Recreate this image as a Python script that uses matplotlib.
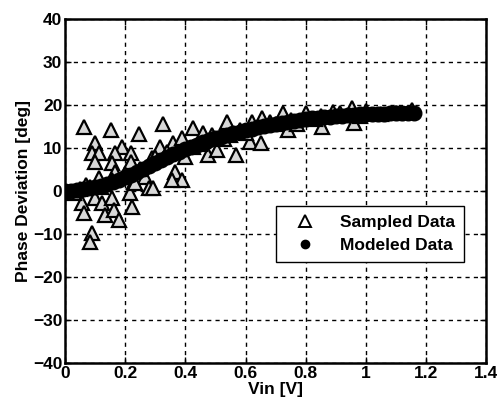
import matplotlib.pyplot as plt
from matplotlib.lines import Line2D

sampled_vin = [
    0.063, 0.153, 0.246, 0.10, 0.19, 0.09, 0.113, 0.166, 0.22, 0.10, 0.156, 0.22,
    0.166, 0.29, 0.113, 0.156, 0.23, 0.266, 0.057, 0.063, 0.10, 0.123, 0.156, 0.133,
    0.163, 0.18, 0.223, 0.09, 0.083, 0.216, 0.28, 0.233, 0.326, 0.426, 0.54, 0.36,
    0.39, 0.316, 0.46, 0.49, 0.57, 0.476, 0.505, 0.366, 0.39, 0.356, 0.293, 0.426,
    0.58, 0.62, 0.655, 0.725, 0.80, 0.855, 0.74, 0.615, 0.65, 0.96, 0.955, 0.89,
    0.915, 0.68, 1.154, 0.03, 0.05, 0.07, 0.12, 0.20, 0.25, 0.30, 0.34, 0.45,
    0.55, 0.60, 0.70, 0.75, 0.85, 1.00, 1.05, 1.10, 0.98, 0.77, 0.83, 0.53,
    0.40, 0.083,
]
sampled_phase = [
    14.8, 14.2, 13.3, 11.2, 10.2, 8.8, 8.8, 8.8, 8.8, 6.7, 6.5, 6.7,
    4.4, 7.7, 3.0, 2.6, 2.1, 3.3, -2.8, -5.1, -1.6, -2.8, -1.6, -5.6,
    -4.4, -6.7, -3.7, -9.8, -11.9, -0.5, 0.7, 1.9, 15.6, 14.6, 16.0, 11.2,
    12.3, 10.2, 13.5, 13.0, 8.4, 8.4, 9.5, 4.4, 2.6, 2.6, 0.7, 10.2,
    14.2, 16.0, 17.0, 18.1, 18.1, 14.9, 14.2, 11.4, 11.2, 15.8, 19.3, 18.4,
    18.1, 16.0, 18.8, -0.5, 0.5, 1.5, 1.0, 4.0, 5.0, 8.0, 9.0, 11.0,
    13.0, 13.5, 15.5, 16.5, 17.5, 18.5, 18.0, 18.2, 17.5, 15.5, 16.8, 12.0,
    8.0, 0.9,
]

# modeled points (dense black band)
model_vin = [
    0.00, 0.02, 0.04, 0.06, 0.08, 0.10, 0.12, 0.14, 0.16, 0.18, 0.20, 0.22,
    0.24, 0.26, 0.28, 0.30, 0.32, 0.34, 0.36, 0.38, 0.40, 0.42, 0.44, 0.46,
    0.48, 0.50, 0.52, 0.54, 0.56, 0.58, 0.60, 0.62, 0.64, 0.66, 0.68, 0.70,
    0.72, 0.74, 0.76, 0.78, 0.80, 0.82, 0.84, 0.86, 0.88, 0.90, 0.92, 0.94,
    0.96, 0.98, 1.00, 1.02, 1.04, 1.06, 1.08, 1.10, 1.12, 1.14, 1.16,
]
model_phase = [
    0.0, 0.0, 0.2, 0.4, 0.6, 0.9, 1.2, 1.6, 2.1, 2.6, 3.2, 3.8,
    4.4, 5.1, 5.8, 6.5, 7.2, 7.9, 8.5, 9.1, 9.7, 10.3, 10.8, 11.3,
    11.8, 12.2, 12.6, 13.0, 13.4, 13.8, 14.1, 14.5, 14.8, 15.1, 15.4, 15.6,
    15.9, 16.1, 16.3, 16.5, 16.7, 16.9, 17.0, 17.2, 17.3, 17.4, 17.5, 17.6,
    17.7, 17.8, 17.9, 17.9, 18.0, 18.0, 18.1, 18.1, 18.1, 18.2, 18.2,
]

plt.rcParams["font.family"] = ["Liberation Sans", "DejaVu Sans"]
plt.rcParams["font.weight"] = "bold"
FS = 12.5

fig = plt.figure(figsize=(4.97, 4.12), dpi=100)
ax = fig.add_axes([0.131, 0.119, 0.847, 0.835])

ax.plot(sampled_vin, sampled_phase, linestyle="none", marker="^", markersize=10.5,
        markerfacecolor="#d8d8d8", markeredgecolor="black", markeredgewidth=1.6,
        zorder=3)
ax.plot(model_vin, model_phase, linestyle="none", marker="o", markersize=10.5,
        color="black", zorder=4)

ax.set_xlim(0, 1.4)
ax.set_ylim(-40, 40)
ax.set_xticks([0, 0.2, 0.4, 0.6, 0.8, 1, 1.2, 1.4])
ax.set_xticklabels(["0", "0.2", "0.4", "0.6", "0.8", "1", "1.2", "1.4"])
ax.set_yticks(range(-40, 41, 10))
ax.grid(True, color="black", linestyle=(0, (3, 3)), linewidth=1)
ax.tick_params(direction="in", length=4, width=1, labelsize=FS, pad=2,
               top=True, right=True)
for s in ax.spines.values():
    s.set_linewidth(1.8)

ax.set_xlabel("Vin [V]", fontsize=FS, fontweight="bold", labelpad=1)
ax.set_ylabel("Phase Deviation [deg]", fontsize=FS, fontweight="bold", labelpad=1)

handles = [
    Line2D([], [], linestyle="none", marker="^", markersize=8,
           markerfacecolor="white", markeredgecolor="black", markeredgewidth=1.4),
    Line2D([], [], linestyle="none", marker="o", markersize=6, color="black"),
]
leg = ax.legend(handles, ["Sampled Data", "Modeled Data"], loc="upper left",
                bbox_to_anchor=(0.50, 0.456), borderaxespad=0, fancybox=False,
                framealpha=1, edgecolor="black", fontsize=FS, handlelength=2.4,
                handletextpad=0.8, borderpad=0.5, labelspacing=0.45)
leg.get_frame().set_linewidth(1)

fig.savefig("out.png", dpi=100)
